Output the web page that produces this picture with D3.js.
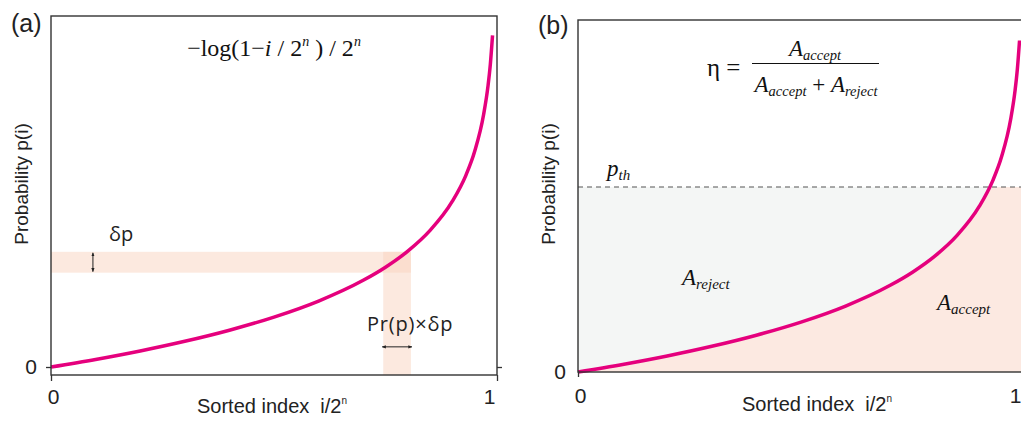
<!DOCTYPE html>
<html>
<head>
<meta charset="utf-8">
<script src="https://cdn.jsdelivr.net/npm/d3@7"></script>
<style>
  body { margin: 0; background: #fff; }
  svg { display: block; }
  .tick text { font-family: 'Liberation Sans', Arial, sans-serif; font-size: 21px; fill: #222; }
  .tick line { stroke: #333; stroke-width: 1.3px; }
</style>
</head>
<body>
<svg id="chart" width="1021" height="426"></svg>
<script>
// curve samples (sorted index i/2^n, probability)
const sortedIndex = [0, 0.1, 0.2, 0.3, 0.4, 0.5, 0.6, 0.7, 0.75, 0.8, 0.85, 0.9, 0.93, 0.95, 0.97, 0.98, 0.985, 0.99]
const probability = [0, 0.105, 0.223, 0.357, 0.511, 0.693, 0.916, 1.204, 1.386, 1.609, 1.897, 2.303, 2.659, 2.996, 3.507, 3.912, 4.2, 4.605]
const xTicks = [0, 1]
const yTicks = [0]
const panelLabels = ['(a)', '(b)']
// panel (a) highlight bands
const bandIndex = [0.745, 0.807]
const bandProb = [1.31, 1.6]
// panel (b) threshold
const pThreshold = 2.57

const curveColor = '#e5007d'
const frameColor = '#333'
const sans = "'Liberation Sans', Arial, sans-serif"
const serif = "'Liberation Serif', 'Times New Roman', serif"
const soft = "'Open Sans', 'Noto Sans', sans-serif"

const points = sortedIndex.map((x, i) => ({ x: x, p: probability[i] }))
const svg = d3.select('#chart')

function panel (opt) {
  const x = d3.scaleLinear().domain([0, 1]).range([opt.left, opt.left + 446])
  const y = d3.scaleLinear().domain(opt.yDomain).range([opt.bottom, opt.top])
  const g = svg.append('g')
  const line = d3.line().curve(d3.curveMonotoneX).x(d => x(d.x)).y(d => y(d.p))
  return { x, y, g, line }
}

function yTitle (g, cx) {
  g.append('text')
    .attr('transform', `translate(${cx},184) rotate(-90)`)
    .attr('text-anchor', 'middle')
    .attr('font-family', sans).attr('font-size', 19).attr('fill', '#222')
    .text('Probability p(i)')
}

function xTitle (g, cx, cy) {
  const t = g.append('text')
    .attr('x', cx).attr('y', cy)
    .attr('text-anchor', 'middle')
    .attr('font-family', sans).attr('font-size', 20).attr('fill', '#222')
    .style('white-space', 'pre')
  t.append('tspan').text('Sorted index  i/2')
  t.append('tspan').attr('font-size', 10).attr('dy', -9).text('n')
}

function arrow (id) {
  svg.append('defs').append('marker')
    .attr('id', id)
    .attr('viewBox', '0 0 10 10').attr('refX', 9).attr('refY', 5)
    .attr('markerWidth', 4).attr('markerHeight', 4)
    .attr('orient', 'auto-start-reverse')
    .append('path').attr('d', 'M0,1 L10,5 L0,9 Z').attr('fill', '#222')
}
arrow('head')

// ---------------- panel (a)
{
  const { x, y, g, line } = panel({ left: 51, top: 16, bottom: 375, yDomain: [-0.111, 4.875] })

  // highlight bands (overlap gets darker)
  g.append('rect')
    .attr('x', x(0)).attr('width', x(bandIndex[1]) - x(0))
    .attr('y', y(bandProb[1])).attr('height', y(bandProb[0]) - y(bandProb[1]))
    .attr('fill', '#f9d3bf').attr('opacity', 0.5)
  g.append('rect')
    .attr('x', x(bandIndex[0])).attr('width', x(bandIndex[1]) - x(bandIndex[0]))
    .attr('y', y(bandProb[1])).attr('height', y.range()[0] - y(bandProb[1]))
    .attr('fill', '#f9d3bf').attr('opacity', 0.5)

  g.append('path')
    .attr('d', line(points))
    .attr('fill', 'none').attr('stroke', curveColor).attr('stroke-width', 3.5)

  g.append('rect')
    .attr('x', x(0)).attr('y', y.range()[1])
    .attr('width', x(1) - x(0)).attr('height', y.range()[0] - y.range()[1])
    .attr('fill', 'none').attr('stroke', frameColor).attr('stroke-width', 1.4)

  // axes
  const ax = g.append('g').attr('transform', `translate(0,${y.range()[0]})`)
    .call(d3.axisBottom(x).tickValues(xTicks).tickSize(6).tickPadding(8).tickFormat(d3.format('d')))
  ax.select('.domain').remove()
  ax.selectAll('.tick text').attr('dx', (d) => d === 1 ? -8 : 2)
  const ay = g.append('g').attr('transform', `translate(${x(0)},0)`)
    .call(d3.axisLeft(y).tickValues(yTicks).tickSize(5).tickPadding(9).tickFormat(d3.format('d')))
  ay.select('.domain').remove()
  const ay2 = g.append('g').attr('transform', `translate(${x(1)},0)`)
    .call(d3.axisLeft(y).tickValues(yTicks).tickSize(-5).tickFormat(''))
  ay2.select('.domain').remove()

  // arrows
  g.append('line')
    .attr('x1', x(0.094)).attr('x2', x(0.094))
    .attr('y1', y(bandProb[1]) + 1).attr('y2', y(bandProb[0]) - 1)
    .attr('stroke', '#222').attr('stroke-width', 1)
    .attr('marker-start', 'url(#head)').attr('marker-end', 'url(#head)')
  g.append('line')
    .attr('x1', x(bandIndex[0]) - 1).attr('x2', x(bandIndex[1]) + 1)
    .attr('y1', y(0.28)).attr('y2', y(0.28))
    .attr('stroke', '#222').attr('stroke-width', 1)
    .attr('marker-start', 'url(#head)').attr('marker-end', 'url(#head)')

  g.append('text').attr('x', 109).attr('y', 241)
    .attr('font-family', soft).attr('font-size', 20).attr('fill', '#222')
    .text('δp')
  g.append('text').attr('x', 367).attr('y', 331)
    .attr('font-family', soft).attr('font-size', 20).attr('fill', '#222')
    .attr('letter-spacing', 0.8)
    .text('Pr(p)×δp')

  // formula
  const f = g.append('text').attr('x', 274).attr('y', 56)
    .attr('text-anchor', 'middle')
    .attr('font-family', serif).attr('font-size', 24).attr('fill', '#111')
    .style('white-space', 'pre')
  f.append('tspan').text('−log(1−')
  f.append('tspan').attr('font-style', 'italic').text('i')
  f.append('tspan').text(' / 2')
  f.append('tspan').attr('font-style', 'italic').attr('font-size', 14).attr('dy', -10).text('n')
  f.append('tspan').attr('dy', 10).text(' ) / 2')
  f.append('tspan').attr('font-style', 'italic').attr('font-size', 14).attr('dy', -10).text('n')

  g.append('text').attr('x', 11).attr('y', 32)
    .attr('font-family', sans).attr('font-size', 25).attr('fill', '#222')
    .text(panelLabels[0])
  yTitle(g, 28)
  xTitle(g, 272, 413)
}

// ---------------- panel (b)
{
  const { x, y, g, line } = panel({ left: 578, top: 20, bottom: 372, yDomain: [0, 4.89] })

  svg.append('defs').append('clipPath').attr('id', 'belowTh')
    .append('rect')
    .attr('x', x(0)).attr('y', y(pThreshold))
    .attr('width', x(1) - x(0)).attr('height', y(0) - y(pThreshold))

  // reject region (between threshold and curve)
  g.append('rect')
    .attr('x', x(0)).attr('y', y(pThreshold))
    .attr('width', x(1) - x(0)).attr('height', y(0) - y(pThreshold))
    .attr('fill', '#f4f6f5')
  // accept region (under curve, below threshold)
  const area = d3.area().curve(d3.curveMonotoneX)
    .x(d => x(d.x)).y0(y(0)).y1(d => y(d.p))
  g.append('path')
    .attr('d', area(points.concat([{ x: 1, p: probability[probability.length - 1] }])))
    .attr('fill', '#fce9e1')
    .attr('clip-path', 'url(#belowTh)')

  g.append('line')
    .attr('x1', x(0)).attr('x2', x(1))
    .attr('y1', y(pThreshold)).attr('y2', y(pThreshold))
    .attr('stroke', '#555').attr('stroke-width', 1.2).attr('stroke-dasharray', '5,4')

  g.append('path')
    .attr('d', line(points))
    .attr('fill', 'none').attr('stroke', curveColor).attr('stroke-width', 3.5)

  g.append('rect')
    .attr('x', x(0)).attr('y', y.range()[1])
    .attr('width', x(1) - x(0)).attr('height', y.range()[0] - y.range()[1])
    .attr('fill', 'none').attr('stroke', frameColor).attr('stroke-width', 1.4)

  const ax = g.append('g').attr('transform', `translate(0,${y.range()[0]})`)
    .call(d3.axisBottom(x).tickValues(xTicks).tickSize(5).tickPadding(11).tickFormat(d3.format('d')))
  ax.select('.domain').remove()
  ax.selectAll('.tick text').attr('dx', (d) => d === 1 ? -9 : 2)
  ax.selectAll('.tick line').attr('stroke', (d) => d === 1 ? 'none' : frameColor)
  const ay = g.append('g').attr('transform', `translate(${x(0)},0)`)
    .call(d3.axisLeft(y).tickValues(yTicks).tickSize(0).tickPadding(12).tickFormat(d3.format('d')))
  ay.select('.domain').remove()

  // threshold label
  const pt = g.append('text').attr('x', 607).attr('y', 176)
    .attr('font-family', serif).attr('font-size', 23).attr('font-style', 'italic').attr('fill', '#111')
  pt.append('tspan').text('p')
  pt.append('tspan').attr('font-size', 15).attr('dy', 4).text('th')

  function areaLabel (px, py, sub) {
    const t = g.append('text').attr('x', px).attr('y', py)
      .attr('font-family', serif).attr('font-style', 'italic').attr('font-size', 23).attr('fill', '#111')
    t.append('tspan').text('A')
    t.append('tspan').attr('font-size', 15).attr('dy', 4).text(sub)
    return t
  }
  areaLabel(682, 285, 'reject')
  areaLabel(937, 310, 'accept')

  // efficiency formula
  g.append('text').attr('x', 707).attr('y', 76)
    .attr('font-family', serif).attr('font-size', 25).attr('fill', '#111')
    .text('η =')
  g.append('line')
    .attr('x1', 752).attr('x2', 879).attr('y1', 63.5).attr('y2', 63.5)
    .attr('stroke', '#111').attr('stroke-width', 1)
  const num = g.append('text').attr('x', 815).attr('y', 56).attr('text-anchor', 'middle')
    .attr('font-family', serif).attr('font-style', 'italic').attr('font-size', 23).attr('fill', '#111')
  num.append('tspan').text('A')
  num.append('tspan').attr('font-size', 14.5).attr('dy', 4).text('accept')
  const den = g.append('text').attr('x', 816).attr('y', 92).attr('text-anchor', 'middle')
    .attr('font-family', serif).attr('font-style', 'italic').attr('font-size', 23).attr('fill', '#111')
    .style('white-space', 'pre')
  den.append('tspan').text('A')
  den.append('tspan').attr('font-size', 14.5).attr('dy', 4).text('accept')
  den.append('tspan').attr('font-style', 'normal').attr('dy', -4).text(' + ')
  den.append('tspan').text('A')
  den.append('tspan').attr('font-size', 14.5).attr('dy', 4).text('reject')

  g.append('text').attr('x', 538).attr('y', 34)
    .attr('font-family', sans).attr('font-size', 25).attr('fill', '#222')
    .text(panelLabels[1])
  yTitle(g, 555)
  xTitle(g, 817, 411)
}
</script>
</body>
</html>
